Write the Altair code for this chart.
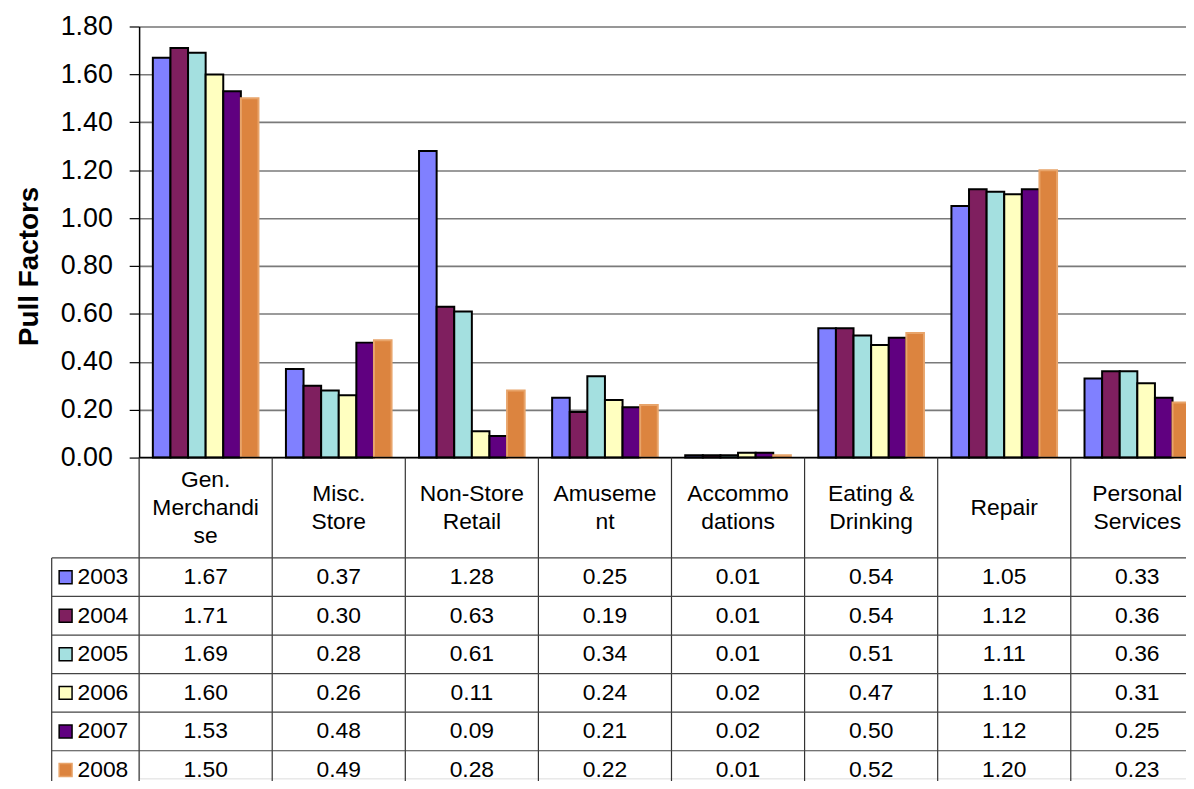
import altair as alt
import pandas as pd

category_names = ["Gen. Merchandise", "Misc. Store", "Non-Store Retail", "Amusement",
                  "Accommodations", "Eating & Drinking", "Repair", "Personal Services"]
category_labels = ["Gen.\nMerchandi\nse", "Misc.\nStore", "Non-Store\nRetail", "Amuseme\nnt",
                   "Accommo\ndations", "Eating &\nDrinking", "Repair", "Personal\nServices"]
years = ["2003", "2004", "2005", "2006", "2007", "2008"]
v2003 = [1.67, 0.37, 1.28, 0.25, 0.01, 0.54, 1.05, 0.33]
v2004 = [1.71, 0.30, 0.63, 0.19, 0.01, 0.54, 1.12, 0.36]
v2005 = [1.69, 0.28, 0.61, 0.34, 0.01, 0.51, 1.11, 0.36]
v2006 = [1.60, 0.26, 0.11, 0.24, 0.02, 0.47, 1.10, 0.31]
v2007 = [1.53, 0.48, 0.09, 0.21, 0.02, 0.50, 1.12, 0.25]
v2008 = [1.50, 0.49, 0.28, 0.22, 0.01, 0.52, 1.20, 0.23]
y_ticks = [0.0, 0.2, 0.4, 0.6, 0.8, 1.0, 1.2, 1.4, 1.6, 1.8]
colors = ["#8080FF", "#7F1F5F", "#A4E0E0", "#FFFFC0", "#600080", "#DC843F"]
strokes = ["#000000", "#000000", "#000000", "#000000", "#000000", "#E8A46A"]

series = [v2003, v2004, v2005, v2006, v2007, v2008]
rows = []
for yr, vals in zip(years, series):
    for c, v in zip(category_names, vals):
        rows.append({"cat": c, "year": yr, "value": v})
df = pd.DataFrame(rows)
hdr = pd.DataFrame({"cat": category_names, "label": category_labels,
                    "nlines": [len(s.split("\n")) for s in category_labels]})
yr_df = pd.DataFrame({"year": years})
one = pd.DataFrame({"v": [0.0]})

FONT = "Liberation Sans"
xscale = alt.Scale(domain=category_names, range=[0, 1072], paddingInner=0, paddingOuter=0)
yscale = alt.Scale(domain=[0, 1.8], range=[434, 0], nice=False)
rowscale = alt.Scale(domain=years, range=[535, 768], paddingInner=0, paddingOuter=0)
fillscale = alt.Scale(domain=years, range=colors)
strokescale = alt.Scale(domain=years, range=strokes)

yaxis = alt.Axis(
    values=y_ticks, format=".2f", title="Pull Factors",
    titleFontSize=28, titleFontWeight="bold", titleColor="black", titleFont=FONT,
    titleAngle=270, titleX=-110, titleY=241, titleAlign="center", titleBaseline="middle",
    labelFontSize=27, labelColor="black", labelFont=FONT, labelPadding=17,
    labelFlush=False, labelOverlap=False,
    tickSize=10, tickColor="black", tickWidth=1.2,
    domainColor="black", domainWidth=1.5,
    grid=True, gridColor="#7a7a7a", gridWidth=1.6)

X = alt.X("cat:N", scale=xscale, axis=None)

bars = alt.Chart(df).mark_bar(strokeWidth=2).encode(
    x=X,
    xOffset=alt.XOffset("year:N", scale=alt.Scale(domain=years, paddingInner=0, paddingOuter=0.78)),
    y=alt.Y("value:Q", scale=yscale, axis=yaxis),
    fill=alt.Fill("year:N", scale=fillscale, legend=None),
    stroke=alt.Stroke("year:N", scale=strokescale, legend=None),
)

base0 = alt.Chart(one).mark_rule(color="black", strokeWidth=1.5).encode(
    y=alt.Y("v:Q", scale=yscale, axis=yaxis),
    x=alt.value(0), x2=alt.value(1072),
)

vlines = alt.Chart(hdr).mark_rule(color="#333333", strokeWidth=1.2).encode(
    x=alt.X("cat:N", scale=xscale, axis=None, bandPosition=0),
    y=alt.value(434), y2=alt.value(770),
)
legline = alt.Chart(one).mark_rule(color="#333333", strokeWidth=1.2).encode(
    x=alt.value(-88), y=alt.value(535), y2=alt.value(770),
)
rowlines = alt.Chart(yr_df).mark_rule(color="#444444", strokeWidth=1.2).encode(
    y=alt.Y("year:N", scale=rowscale, axis=None, bandPosition=0),
    x=alt.value(-88), x2=alt.value(1072),
)


def header_layer(n):
    return alt.Chart(hdr).transform_filter(alt.datum.nlines == n).mark_text(
        fontSize=23, font=FONT, lineBreak="\n", lineHeight=28,
        baseline="middle", align="center", color="black").encode(
        x=X, y=alt.value(485 - (n - 1) * 14), text="label:N")


cells = alt.Chart(df).mark_text(fontSize=23, font=FONT, baseline="middle", color="black").encode(
    x=X,
    y=alt.Y("year:N", scale=rowscale, axis=None),
    text=alt.Text("value:Q", format=".2f"),
)
swatches = alt.Chart(yr_df).mark_square(size=169, strokeWidth=1.5, opacity=1).encode(
    x=alt.value(-74),
    y=alt.Y("year:N", scale=rowscale, axis=None),
    fill=alt.Fill("year:N", scale=fillscale, legend=None),
    stroke=alt.Stroke("year:N", scale=strokescale, legend=None),
)
yeartext = alt.Chart(yr_df).mark_text(fontSize=23, font=FONT, align="left", baseline="middle",
                                      color="black").encode(
    x=alt.value(-62),
    y=alt.Y("year:N", scale=rowscale, axis=None),
    text="year:N",
)

chart = alt.layer(
    alt.layer(bars, base0),
    alt.layer(vlines, legline, rowlines, header_layer(1), header_layer(2), header_layer(3),
              cells, swatches, yeartext),
).resolve_scale(y="independent").properties(
    width=1054, height=757,
    padding={"left": 132, "top": 16, "right": 0, "bottom": 0},
    autosize=alt.AutoSizeParams(type="none"),
).configure_view(strokeWidth=0).configure(font=FONT)

chart.save("out.html", embed_options={"renderer": "svg", "actions": False})
